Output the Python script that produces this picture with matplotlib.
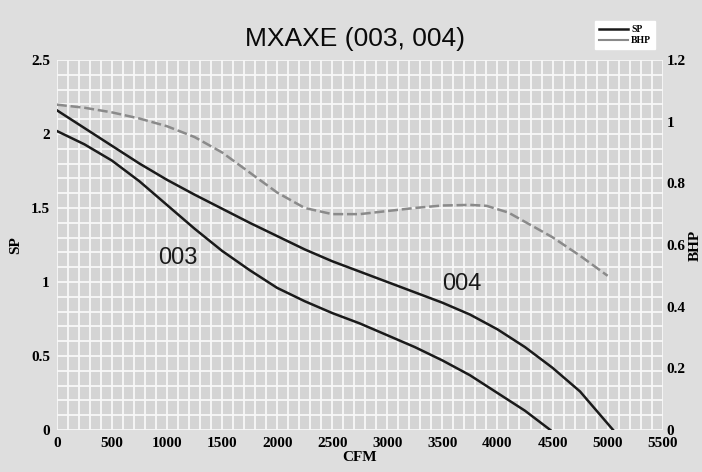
import matplotlib
matplotlib.use('Agg')
import matplotlib.pyplot as plt
from matplotlib.lines import Line2D
from matplotlib.ticker import MultipleLocator

cfm_003 = [0, 250, 500, 750, 1000, 1250, 1500, 1750, 2000, 2250, 2500, 2750, 3000, 3250, 3500, 3750, 4000, 4250, 4480]
sp_003 = [2.02, 1.93, 1.82, 1.68, 1.52, 1.36, 1.21, 1.08, 0.96, 0.87, 0.79, 0.72, 0.64, 0.56, 0.47, 0.37, 0.25, 0.13, 0.0]

cfm_004 = [0, 250, 500, 750, 1000, 1250, 1500, 1750, 2000, 2250, 2500, 2750, 3000, 3250, 3500, 3750, 4000, 4250, 4500, 4750, 5050]
sp_004 = [2.16, 2.04, 1.92, 1.80, 1.69, 1.59, 1.495, 1.40, 1.31, 1.22, 1.14, 1.07, 1.00, 0.93, 0.86, 0.78, 0.68, 0.56, 0.42, 0.26, 0.0]

cfm_bhp = [0, 250, 500, 750, 1000, 1250, 1500, 1750, 2000, 2250, 2500, 2750, 3000, 3250, 3500, 3750, 3900, 4100, 4300, 4500, 4750, 5000]
bhp = [1.055, 1.045, 1.03, 1.01, 0.985, 0.95, 0.90, 0.835, 0.77, 0.72, 0.70, 0.70, 0.71, 0.72, 0.728, 0.73, 0.727, 0.705, 0.665, 0.625, 0.565, 0.50]

x_ticks = list(range(0, 5501, 500))
sp_ticks = [0, 0.5, 1, 1.5, 2, 2.5]
sp_labels = ['0', '0.5', '1', '1.5', '2', '2.5']
bhp_ticks = [0, 0.2, 0.4, 0.6, 0.8, 1.0, 1.2]
bhp_labels = ['0', '0.2', '0.4', '0.6', '0.8', '1', '1.2']

tick_font = {'family': 'Liberation Serif', 'weight': 'bold', 'size': 11}

fig = plt.figure(figsize=(7.02, 4.72), dpi=100, facecolor='#dedede')
ax = fig.add_axes([0.081, 0.089, 0.863, 0.784])
ax.set_facecolor('#d4d4d4')

ax.plot(cfm_003, sp_003, color='#1a1a1a', lw=1.8, zorder=3)
ax.plot(cfm_004, sp_004, color='#1a1a1a', lw=1.8, zorder=3)

ax.set_xlim(0, 5500)
ax.set_ylim(0, 2.5)
ax.set_xticks(x_ticks)
ax.set_xticklabels([str(v) for v in x_ticks], fontdict=tick_font)
ax.set_yticks(sp_ticks)
ax.set_yticklabels(sp_labels, fontdict=tick_font)
ax.xaxis.set_minor_locator(MultipleLocator(100))
ax.yaxis.set_minor_locator(MultipleLocator(0.1))
ax.grid(which='both', color='#f8f8f8', lw=1.3)
ax.set_axisbelow(True)
ax.tick_params(which='both', length=0, pad=5)
for s in ax.spines.values():
    s.set_visible(False)

ax2 = ax.twinx()
ax2.plot(cfm_bhp, bhp, color='#8a8a8a', lw=1.8, ls=(0, (4, 1.5)), zorder=3)
ax2.set_ylim(0, 1.2)
ax2.set_yticks(bhp_ticks)
ax2.set_yticklabels(bhp_labels, fontdict=tick_font)
ax2.tick_params(length=0, pad=3)
for s in ax2.spines.values():
    s.set_visible(False)

ax.text(1100, 1.16, '003', fontsize=17, family='Liberation Sans', ha='center', va='center', color='#1a1a1a')
ax.text(3680, 0.985, '004', fontsize=17, family='Liberation Sans', ha='center', va='center', color='#1a1a1a')

ax.set_xlabel('CFM', fontdict={'family': 'Liberation Serif', 'weight': 'bold', 'size': 11}, labelpad=1)
ax.set_ylabel('SP', fontdict={'family': 'Liberation Serif', 'weight': 'bold', 'size': 11}, labelpad=6)
ax2.set_ylabel('BHP', fontdict={'family': 'Liberation Serif', 'weight': 'bold', 'size': 11}, labelpad=2)

fig.text(0.505, 0.918, 'MXAXE (003, 004)', fontsize=19, family='Liberation Sans',
         ha='center', va='center', color='#0a0a0a')

handles = [Line2D([], [], color='#1a1a1a', lw=1.8),
           Line2D([], [], color='#8a8a8a', lw=1.5)]
leg = fig.legend(handles, ['SP', 'BHP'], loc='upper right', bbox_to_anchor=(0.94, 0.965),
                 prop={'family': 'Liberation Serif', 'weight': 'bold', 'size': 7},
                 frameon=True, fancybox=False, framealpha=1, edgecolor='white',
                 handlelength=3, handletextpad=0.3, labelspacing=0.2, borderpad=0.4)

fig.savefig('out.png', dpi=100, facecolor=fig.get_facecolor())
